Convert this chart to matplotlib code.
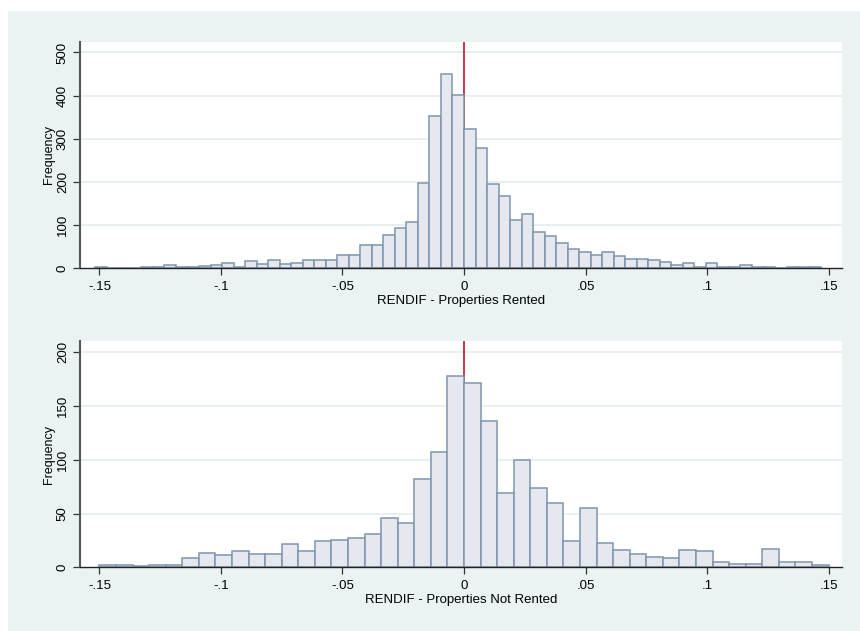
import matplotlib
matplotlib.use("Agg")
import matplotlib.pyplot as plt
import numpy as np
from matplotlib.patches import Rectangle

# histogram counts
rented_start = -0.15168
rented_width = 0.00474
rented_counts = [2, 0, 0, 1, 3, 3, 6, 3, 3, 5, 8, 12, 3, 16, 10, 19, 10, 12, 18, 18,
                 19, 31, 31, 54, 54, 77, 93, 107, 198, 352, 449, 401,
                 322, 279, 196, 167, 112, 126, 84, 74, 59, 43, 38, 29, 38, 28, 21, 21,
                 19, 14, 8, 12, 3, 11, 3, 3, 7, 3, 2, 1, 3, 3, 3]

notrented_start = -0.15
notrented_width = 0.3 / 44
notrented_counts = [2, 2, 1, 2, 2, 9, 13, 11, 15, 12, 12, 22, 15, 24, 25, 27, 31, 46,
                    41, 82, 107, 178,
                    171, 136, 69, 100, 74, 60, 24, 55, 23, 16, 12, 10, 9, 16, 15, 5,
                    3, 3, 17, 5, 5, 2]

xticks = [-0.15, -0.1, -0.05, 0, 0.05, 0.1, 0.15]
xticklabels = ["-.15", "-.1", "-.05", "0", ".05", ".1", ".15"]
rented_yticks = [0, 100, 200, 300, 400, 500]
notrented_yticks = [0, 50, 100, 150, 200]

plt.rcParams['font.family'] = ['Liberation Sans', 'DejaVu Sans']

bg = '#eaf2f3'
fill = '#e5e8ee'
edge = '#7d95ae'

fig = plt.figure(figsize=(8.6, 6.31), dpi=100)
fig.patch.set_facecolor('white')
fig.patches.append(Rectangle((8 / 860, 0), 1, 1 - 11 / 631, transform=fig.transFigure,
                             facecolor=bg, edgecolor='none', zorder=-10))


def draw_panel(ax, start, width, counts, yticks, ymax, xlabel):
    counts = np.array(counts)
    edges = start + width * np.arange(len(counts) + 1)
    ax.set_facecolor('white')
    ax.axvline(0, color='#c8102e', lw=1.2, zorder=1)
    ax.bar(edges[:-1], counts, width=width, align='edge', color=fill,
           edgecolor=edge, linewidth=1.1, zorder=2)
    ax.set_xlim(-0.158, 0.1555)
    ax.set_ylim(0, ymax)
    ax.set_xticks(xticks)
    ax.set_xticklabels(xticklabels)
    ax.set_yticks(yticks)
    ax.set_yticklabels([str(t) for t in yticks], rotation=90, va='center')
    for t in yticks[1:]:
        ax.axhline(t, color='#e6eef0', lw=1.3, zorder=0)
    for s in ['top', 'right']:
        ax.spines[s].set_visible(False)
    ax.spines['left'].set_color('#555555')
    ax.spines['left'].set_linewidth(1.5)
    ax.spines['bottom'].set_color('#222222')
    ax.spines['bottom'].set_linewidth(1.0)
    ax.spines['bottom'].set_zorder(3)
    ax.tick_params(axis='both', labelsize=9.5, length=5, width=0.9, color='#333333', pad=3)
    ax.tick_params(axis='x', pad=4.5)
    ax.set_xlabel(xlabel, fontsize=9.5, labelpad=1)
    ax.set_ylabel("Frequency", fontsize=9, labelpad=1)


ax1 = fig.add_axes([0.093, 0.5753, 0.886, 0.3586])
draw_panel(ax1, rented_start, rented_width, rented_counts, rented_yticks, 525,
           "RENDIF - Properties Rented")

ax2 = fig.add_axes([0.093, 0.1010, 0.886, 0.3586])
draw_panel(ax2, notrented_start, notrented_width, notrented_counts, notrented_yticks, 210.5,
           "RENDIF - Properties Not Rented")

fig.savefig("out.png", dpi=100)
